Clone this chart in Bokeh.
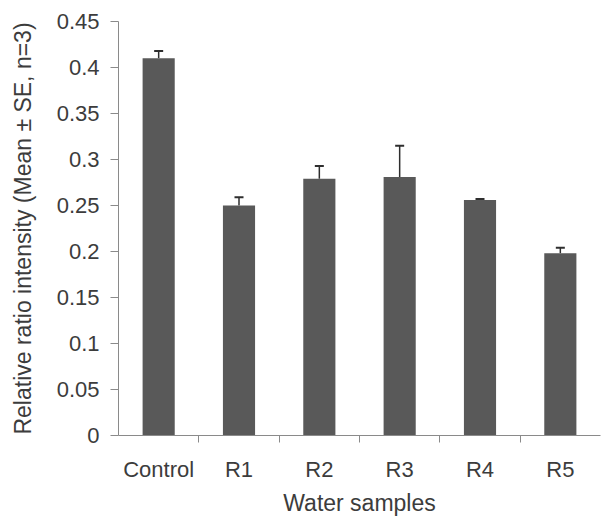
from bokeh.plotting import figure
from bokeh.models import ColumnDataSource, Range1d, FixedTicker, Whisker, TeeHead
from bokeh.embed import file_html
from bokeh.resources import INLINE

# ---- data ----
categories = ["Control", "R1", "R2", "R3", "R4", "R5"]
means = [0.410, 0.250, 0.279, 0.281, 0.256, 0.198]
se = [0.008, 0.009, 0.014, 0.034, 0.001, 0.006]
y_ticks = [0, 0.05, 0.1, 0.15, 0.2, 0.25, 0.3, 0.35, 0.4, 0.45]
y_tick_labels = ["0", "0.05", "0.1", "0.15", "0.2", "0.25", "0.3", "0.35", "0.4", "0.45"]

xs = [i + 0.5 for i in range(len(categories))]
upper = [m + s for m, s in zip(means, se)]
src = ColumnDataSource(dict(x=xs, top=means, upper=upper, cat=categories))

FONT = "Liberation Sans"
TXT = "#3c3c3c"
AX = "#8a8a8a"

p = figure(width=601, height=520, output_backend="svg", toolbar_location=None,
           x_range=Range1d(0, len(categories)), y_range=Range1d(0, 0.45),
           min_border_left=118, min_border_right=1, min_border_top=21, min_border_bottom=85)
p.outline_line_color = None
p.grid.visible = False

p.vbar(x="x", top="top", width=0.4, bottom=0, source=src, fill_color="#595959", line_color=None)

w = Whisker(base="x", upper="upper", lower="top", source=src,
            line_color="#2e2e2e", line_width=1.5,
            upper_head=TeeHead(size=9, line_color="#2e2e2e", line_width=2),
            lower_head=None)
p.add_layout(w)

# x axis
p.xaxis.ticker = FixedTicker(ticks=xs, minor_ticks=[1, 2, 3, 4, 5])
p.xaxis.major_label_overrides = {x: c for x, c in zip(xs, categories)}
p.xaxis.major_tick_line_color = None
p.xaxis.major_tick_out = 0
p.xaxis.major_tick_in = 0
p.xaxis.minor_tick_line_color = AX
p.xaxis.minor_tick_out = 7
p.xaxis.minor_tick_in = 0
p.xaxis.axis_line_color = AX
p.xaxis.major_label_standoff = 14
p.xaxis.axis_label = "Water samples"
p.xaxis.axis_label_standoff = 5

# y axis
p.yaxis.ticker = FixedTicker(ticks=y_ticks, minor_ticks=[])
p.yaxis.major_label_overrides = {t: l for t, l in zip(y_ticks, y_tick_labels)}
p.yaxis.major_tick_line_color = AX
p.yaxis.major_tick_out = 8
p.yaxis.major_tick_in = 0
p.yaxis.axis_line_color = AX
p.yaxis.major_label_standoff = 11
p.yaxis.axis_label = "Relative ratio intensity (Mean \u00b1 SE, n=3)"
p.yaxis.axis_label_standoff = 18

for ax in (p.xaxis, p.yaxis):
    ax.major_label_text_font = FONT
    ax.major_label_text_font_size = "22px"
    ax.major_label_text_color = TXT
    ax.axis_label_text_font = FONT
    ax.axis_label_text_font_size = "23px"
    ax.axis_label_text_font_style = "normal"
    ax.axis_label_text_color = TXT

open("out.html", "w").write(file_html(p, INLINE))
